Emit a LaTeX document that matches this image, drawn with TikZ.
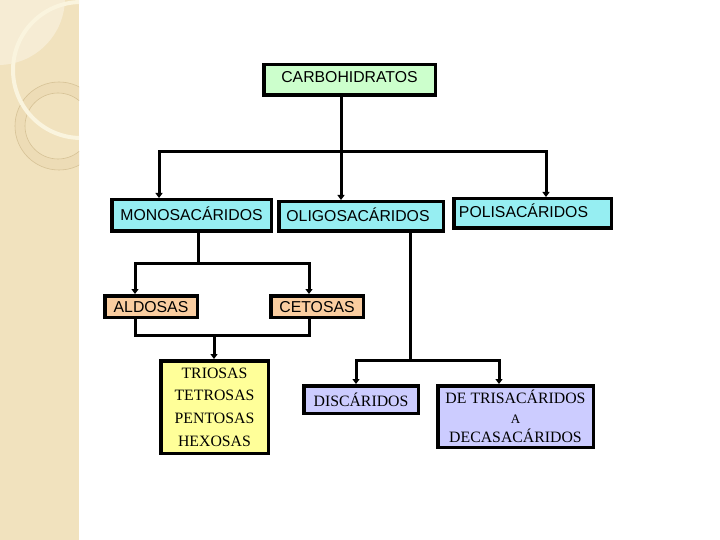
\documentclass[tikz,border=0pt]{standalone}
\usepackage{fontspec}
\setmainfont{Liberation Serif}
\setsansfont{Liberation Sans}
\usetikzlibrary{arrows.meta}
\definecolor{stripbg}{RGB}{241,226,190}
\definecolor{stripltone}{RGB}{246,236,212}
\definecolor{stripcream}{RGB}{250,244,222}
\definecolor{stripband}{RGB}{237,220,182}
\definecolor{striptan}{RGB}{214,194,150}
\definecolor{boxgreen}{RGB}{204,255,204}
\definecolor{boxcyan}{RGB}{150,238,242}
\definecolor{boxpeach}{RGB}{250,205,160}
\definecolor{boxyellow}{RGB}{255,255,153}
\definecolor{boxlav}{RGB}{204,204,255}
\begin{document}
\begin{tikzpicture}[x=1pt,y=-1pt,
  sbox/.style={draw, line width=3.5pt, rectangle, inner sep=0pt,
    font=\sffamily\fontsize{15.8}{18}\selectfont, text height=11pt, text depth=0pt},
  rbox/.style={draw, line width=3.5pt, rectangle, inner sep=0pt, align=center,
    font=\rmfamily\fontsize{15.8}{22.7}\selectfont},
  wire/.style={line width=3pt, line cap=rect},
  arr/.style={line width=3pt, -{Triangle[width=7pt,length=5pt]}}]
\useasboundingbox (0,0) rectangle (720,540);
\fill[white] (0,0) rectangle (720,540);
% background strip
\fill[stripbg] (0,0) rectangle (79,540);
\begin{scope}
  \clip (0,0) rectangle (79,540);
  \fill[stripltone] (-2,-2) circle[radius=67pt];
  \fill[stripband, even odd rule] (59,126) circle[radius=44pt] (58,126) circle[radius=33pt];
  \draw[striptan, line width=0.6pt] (59,126) circle[radius=44pt];
  \draw[striptan, line width=0.6pt] (58,126) circle[radius=33pt];
  \draw[stripcream, line width=4pt] (81,70) circle[radius=68pt];
\end{scope}
% boxes
\node[sbox, fill=boxgreen, minimum width=171.5pt, minimum height=30.5pt, text depth=5pt] (carbo) at (349.5,80) {CARBOHIDRATOS};
\node[sbox, fill=boxcyan, minimum width=159.5pt, minimum height=31.5pt] (mono) at (191.5,215.5) {MONOSACÁRIDOS};
\node[sbox, fill=boxcyan, minimum width=164.5pt, minimum height=29.5pt] (oligo) at (361,216.5) {OLIGOSACÁRIDOS\hspace*{6pt}};
\node[sbox, fill=boxcyan, minimum width=157.5pt, minimum height=29.5pt, text depth=2pt] (poli) at (532.5,213.5) {POLISACÁRIDOS\hspace*{18pt}};
\node[sbox, fill=boxpeach, minimum width=92.5pt, minimum height=21.5pt] (aldosas) at (151,306.5) {ALDOSAS};
\node[sbox, fill=boxpeach, minimum width=92.5pt, minimum height=21.5pt] (cetosas) at (317,306.5) {CETOSAS};
\node[rbox, fill=boxyellow, minimum width=107.5pt, minimum height=92.5pt] (triosas) at (214.5,407) {TRIOSAS\\TETROSAS\\PENTOSAS\\HEXOSAS};
\node[rbox, fill=boxlav, minimum width=114.5pt, minimum height=27.5pt] (disc) at (361,399.5) {DISCÁRIDOS};
\node[rbox, fill=boxlav, minimum width=155.5pt, minimum height=61.5pt, font=\rmfamily\fontsize{15.8}{19.5}\selectfont] (detri) at (515.5,416.5) {DE TRISACÁRIDOS\\{\fontsize{13}{19.5}\selectfont A}\\DECASACÁRIDOS};
% connectors: carbohidratos
\coordinate (j1) at (341,152);
\coordinate (jl) at (159,152);
\coordinate (jr) at (546,152);
\draw[wire] (carbo.south -| j1) -- (j1);
\draw[wire] (jl) -- (jr);
\draw[arr] (jl) -- (jl |- mono.north);
\draw[arr] (j1) -- (j1 |- oligo.north);
\draw[arr] (jr) -- (jr |- poli.north);
% monosacaridos
\coordinate (m1) at (198,263);
\coordinate (ml) at (135,263);
\coordinate (mr) at (309,263);
\draw[wire] (mono.south -| m1) -- (m1);
\draw[wire] (ml) -- (mr);
\draw[arr] (ml) -- (ml |- aldosas.north);
\draw[arr] (mr) -- (mr |- cetosas.north);
% aldosas / cetosas
\coordinate (a1) at (135,335);
\coordinate (a2) at (309,335);
\coordinate (a3) at (214,335);
\draw[wire] (aldosas.south -| a1) -- (a1);
\draw[wire] (cetosas.south -| a2) -- (a2);
\draw[wire] (a1) -- (a2);
\draw[arr] (a3) -- (a3 |- triosas.north);
% oligosacaridos
\coordinate (o1) at (410,360);
\coordinate (ol) at (356,360);
\coordinate (or) at (499,360);
\draw[wire] (oligo.south -| o1) -- (o1);
\draw[wire] (ol) -- (or);
\draw[arr] (ol) -- (ol |- disc.north);
\draw[arr] (or) -- (or |- detri.north);
\end{tikzpicture}
\end{document}
